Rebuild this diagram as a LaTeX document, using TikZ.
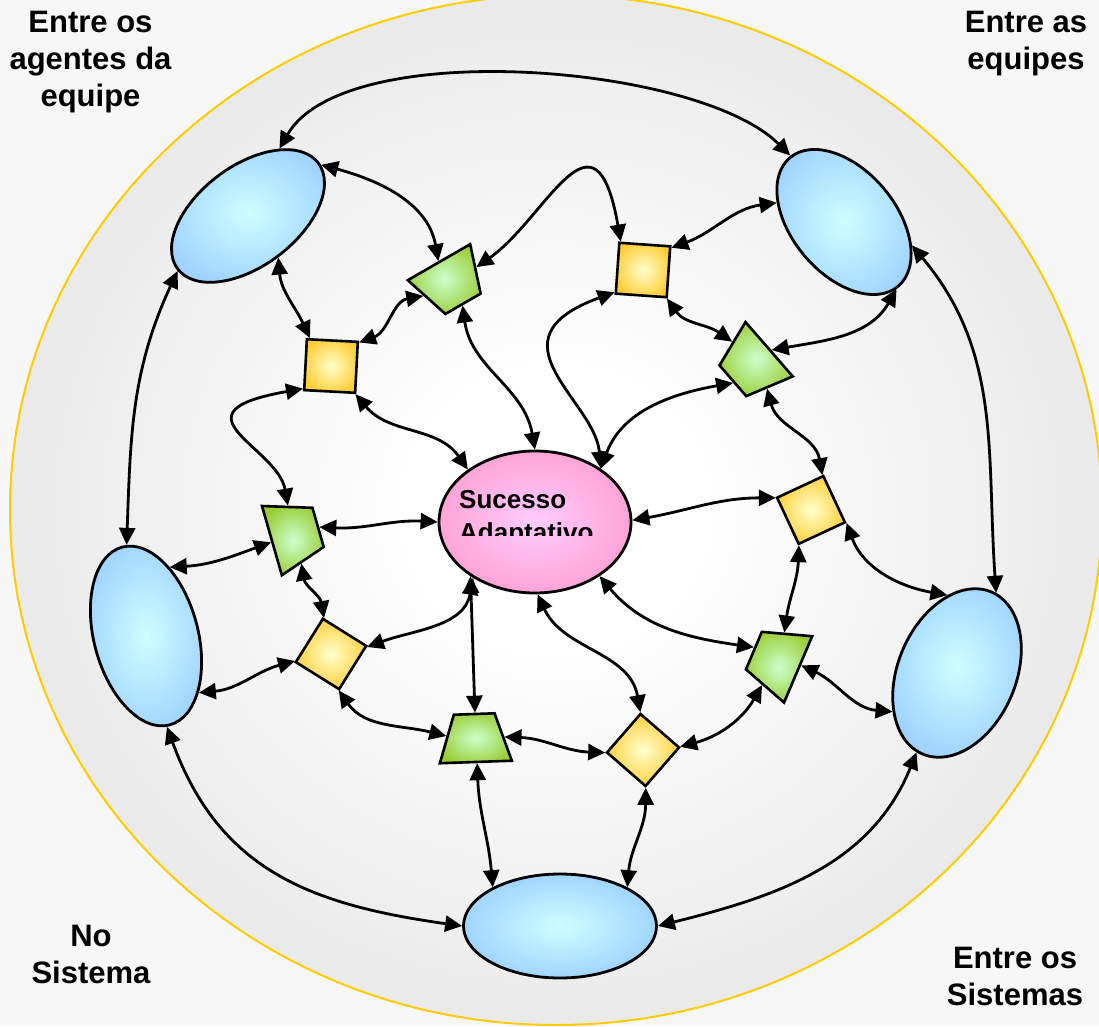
\documentclass[tikz,border=0pt]{standalone}
\usepackage{fontspec}
\setmainfont{Liberation Sans}
\usetikzlibrary{arrows.meta,shapes.geometric}

\definecolor{paper}{HTML}{F7F7F7}
\definecolor{rimgold}{HTML}{FFCC00}
\definecolor{agentin}{HTML}{CCFFFF}
\definecolor{agentout}{HTML}{99CCFF}
\definecolor{hubin}{HTML}{FFCCFF}
\definecolor{hubout}{HTML}{FF99CC}
\definecolor{boxin}{HTML}{FFFFCC}
\definecolor{boxout}{HTML}{FFCC33}
\definecolor{trapin}{HTML}{CCFFCC}
\definecolor{trapout}{HTML}{99CC33}

\pgfdeclareradialshading{rimshade}{\pgfpoint{0bp}{0bp}}{color(0bp)=(white); color(6bp)=(white); color(36bp)=(black!13); color(50bp)=(black!14)}
\pgfdeclareradialshading{agentglow}{\pgfpoint{0bp}{0bp}}{color(0bp)=(agentin); color(30bp)=(agentout); color(50bp)=(agentout)}
\pgfdeclareradialshading{hubglow}{\pgfpoint{0bp}{0bp}}{color(0bp)=(hubin); color(32bp)=(hubout); color(50bp)=(hubout)}
\pgfdeclareradialshading{boxglow}{\pgfpoint{0bp}{0bp}}{color(0bp)=(boxin); color(28bp)=(boxout); color(50bp)=(boxout)}
\pgfdeclareradialshading{trapglow}{\pgfpoint{0bp}{0bp}}{color(0bp)=(trapin); color(28bp)=(trapout); color(50bp)=(trapout)}

\tikzset{
  agent/.style={ellipse, draw, line width=2.8pt, shading=agentglow, inner sep=0pt},
  hubnode/.style={ellipse, draw, line width=2.8pt, shading=hubglow, inner sep=0pt,
    minimum width=192pt, minimum height=142pt},
  sqbox/.style={rectangle, draw, line width=2.6pt, shading=boxglow, minimum size=51pt, inner sep=0pt},
  trap/.style={trapezium, trapezium left angle=69, trapezium right angle=69,
    trapezium stretches=true, minimum width=72pt, minimum height=48pt,
    draw, line width=2.6pt, shading=trapglow, inner sep=2pt},
  link/.style={<->, line width=2.8pt},
  cornerlbl/.style={font=\fontsize{31}{37}\selectfont\bfseries, align=center, inner sep=0pt, anchor=north},
  hubtxt/.style={font=\fontsize{26}{33}\selectfont\bfseries, align=left, inner sep=0pt},
}

\begin{document}
\begin{tikzpicture}[x=1pt, y=1pt, >={Triangle[length=17pt,width=16pt]}]
		\useasboundingbox (0,0) rectangle (1099,1026);
		\fill[paper] (0,0) rectangle (1099,1026);
		
		% Backdrop
		\shadedraw[shading=rimshade, draw=rimgold, line width=2pt] (556,516) ellipse [x radius=546, y radius=515];
		
		% Corner labels
		\node[cornerlbl] (lblteam) at (90.5,1015) {Entre os\\agentes da\\equipe};
		\node[cornerlbl] (lblteams) at (1026,1015) {Entre as\\equipes};
		\node[cornerlbl] (lblsys) at (91,101) {No\\Sistema};
		\node[cornerlbl] (lblsyss) at (1015,79) {Entre os\\Sistemas};
		
		% Outer ellipses
		\node[agent, minimum width=176pt, minimum height=100pt, rotate=37] (ag1) at (248,810) {};
		\node[agent, minimum width=168pt, minimum height=104pt, rotate=-50] (ag2) at (844,804) {};
		\node[agent, minimum width=176pt, minimum height=118pt, rotate=67] (ag3) at (957,353) {};
		\node[agent, minimum width=193pt, minimum height=104pt] (ag4) at (560,100) {};
		\node[agent, minimum width=184pt, minimum height=104pt, rotate=105] (ag5) at (146,390) {};
		
		% Centre
		\node[hubnode] (hub) at (535,504) {};
		\begin{scope}
			\clip (440,490) rectangle (632,560);
			\node[hubtxt, anchor=north west] (hubtext) at (459,536) {Sucesso\\Adaptativo};
		\end{scope}
		
		% Squares
		\node[sqbox, rotate=-3] (sq1) at (331,660) {};
		\node[sqbox, rotate=-4] (sq2) at (643,756) {};
		\node[sqbox, rotate=25] (sq3) at (811,516) {};
		\node[sqbox, rotate=49] (sq4) at (643,276) {};
		\node[sqbox, rotate=-32] (sq5) at (331,372) {};
		
		% Trapezia
		\node[trap, rotate=210] (tz1) at (451,743) {};
		\node[trap, rotate=131] (tz2) at (751,661) {};
		\node[trap, rotate=67] (tz3) at (776,366) {};
		\node[trap, rotate=2] (tz4) at (475,288) {};
		\node[trap, rotate=286] (tz5) at (295,492) {};
		
		% Outer ring
		\draw[link] (ag1.28) to[out=60, in=135, looseness=0.65] (ag2.179);
		\draw[link] (ag1.181) to[out=245, in=88] (ag5.-3);
		\draw[link] (ag2.31) to[out=-50, in=94] (ag3.-3);
		\draw[link] (ag5.178) to[out=-70, in=172, looseness=1.1] (ag4.180);
		\draw[link] (ag3.176) to[out=248, in=14] (ag4.0);
		
		% Upper left
		\draw[link] (ag1.-2) to[out=-15, in=100] (tz1.-90);
		\draw[link] (ag1.-91) to[out=-85, in=115] (sq1.130);
		\draw[link] (sq1.43) to[out=20, in=190] (tz1.-5);
		\draw[link] (sq1.222) to[out=190, in=100, out looseness=3, in looseness=1.3] (tz5.178);
		\draw[link] (sq1.-46) to[out=-50, in=125] (hub.142);
		\draw[link] (tz1.87) to[out=-82, in=100] (hub.90);
		\draw[link] (tz1.182) to[out=35, in=100, out looseness=1.5, in looseness=2.6] (sq2.132);
		
		% Upper right
		\draw[link] (sq2.42) to[out=20, in=188] (ag2.214);
		\draw[link] (sq2.222) to[out=200, in=95, out looseness=2] (hub.39);
		\draw[link] (sq2.-46) to[out=-55, in=145] (tz2.-2);
		\draw[link] (ag2.-2) to[out=240, in=10] (tz2.-95);
		\draw[link] (tz2.94) to[out=190, in=70] (hub.39);
		\draw[link] (tz2.173) to[out=-75, in=100] (sq3.47);
		
		% Right
		\draw[link] (sq3.136) to[out=180, in=10] (hub.1);
		\draw[link] (sq3.-45) to[out=-70, in=170] (ag3.30);
		\draw[link] (sq3.226) to[out=-92, in=82] (tz3.6);
		\draw[link] (tz3.83) to[out=172, in=-50] (hub.-40);
		\draw[link] (tz3.-79) to[out=-25, in=175] (ag3.144);
		\draw[link] (tz3.174) to[out=240, in=15] (sq4.-44);
		
		% Bottom
		\draw[link] (hub.-88) to[out=-65, in=100] (sq4.45);
		\draw[link] (sq4.135) to[out=178, in=-2] (tz4.0);
		\draw[link] (sq4.-135) to[out=-90, in=85] (ag4.30);
		\draw[link] (tz4.-87) to[out=-88, in=95] (ag4.150);
		\draw[link] (tz4.88) to[out=92, in=-88] (hub.220);
		\draw[link] (tz4.174) to[out=166, in=-55] (sq5.-46);
		
		% Left
		\draw[link] (sq5.43) to[out=20, in=-100] (hub.222);
		\draw[link] (sq5.223) to[out=195, in=5] (ag5.208);
		\draw[link] (tz5.-4) to[out=-80, in=100] (sq5.133);
		\draw[link] (tz5.90) to[out=-3, in=177] (hub.180);
		\draw[link] (tz5.-87) to[out=200, in=3] (ag5.-34);
		
	\end{tikzpicture}
\end{document}
